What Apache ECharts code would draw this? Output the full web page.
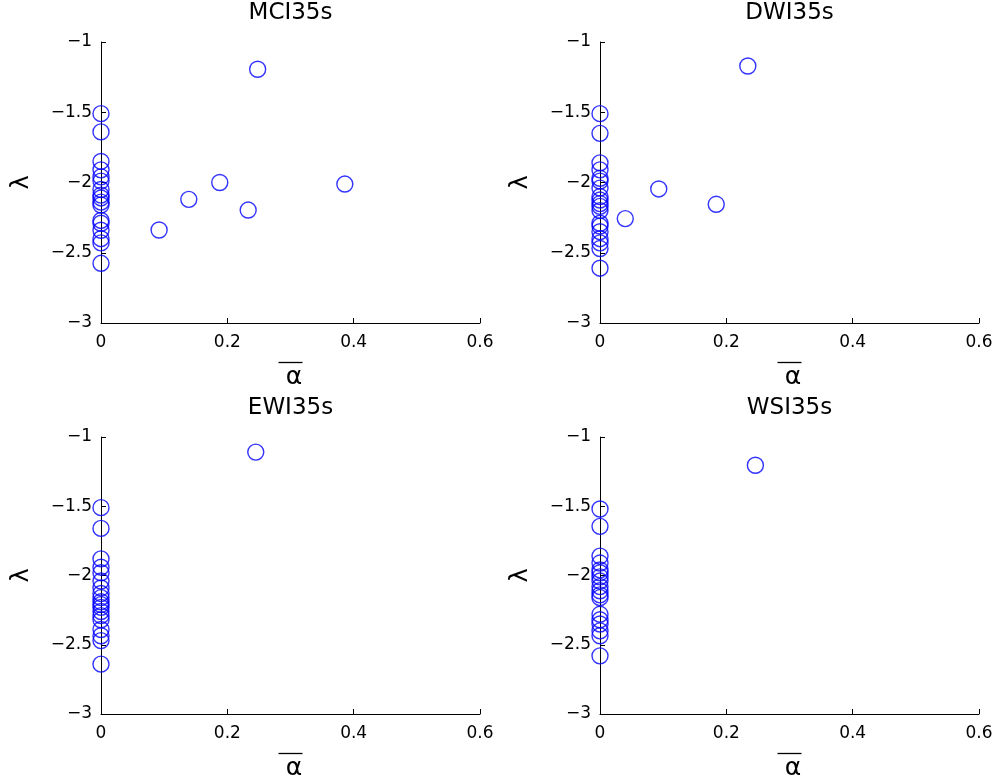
<!DOCTYPE html>
<html>
<head>
<meta charset="utf-8">
<script src="https://cdn.jsdelivr.net/npm/echarts@6/dist/echarts.min.js"></script>
<style>html,body{margin:0;padding:0;background:#fff;overflow:hidden;}#c{width:1002px;height:782px;}</style>
</head>
<body>
<div id="c"></div>
<script>
var titles = ['MCI35s', 'DWI35s', 'EWI35s', 'WSI35s'];
var xTicks = [0, 0.2, 0.4, 0.6];
var yTicks = [-3, -2.5, -2, -1.5, -1];

var mciAlpha = [0,0,0,0,0,0,0,0,0,0,0,0,0,0,0,0,0, 0.248,0.188,0.139,0.233,0.092,0.386];
var mciLambda = [-1.51,-1.64,-1.85,-1.91,-1.96,-1.99,-2.05,-2.09,-2.11,-2.14,-2.16,-2.27,-2.29,-2.34,-2.40,-2.43,-2.575, -1.194,-2.00,-2.12,-2.196,-2.338,-2.011];

var dwiAlpha = [0,0,0,0,0,0,0,0,0,0,0,0,0,0,0,0,0,0,0, 0.234,0.093,0.184,0.040];
var dwiLambda = [-1.51,-1.65,-1.86,-1.91,-1.97,-1.99,-2.04,-2.10,-2.125,-2.15,-2.17,-2.20,-2.29,-2.31,-2.35,-2.40,-2.43,-2.47,-2.61, -1.171,-2.046,-2.155,-2.257];

var ewiAlpha = [0,0,0,0,0,0,0,0,0,0,0,0,0,0,0,0,0,0,0, 0.245];
var ewiLambda = [-1.51,-1.66,-1.88,-1.94,-1.98,-2.04,-2.09,-2.13,-2.16,-2.19,-2.21,-2.23,-2.26,-2.29,-2.32,-2.39,-2.435,-2.47,-2.64, -1.109];

var wsiAlpha = [0,0,0,0,0,0,0,0,0,0,0,0,0,0,0,0,0,0, 0.246];
var wsiLambda = [-1.52,-1.645,-1.86,-1.91,-1.96,-1.98,-2.01,-2.04,-2.08,-2.11,-2.14,-2.16,-2.28,-2.32,-2.35,-2.40,-2.435,-2.58, -1.204];

var alphas = [mciAlpha, dwiAlpha, ewiAlpha, wsiAlpha];
var lambdas = [mciLambda, dwiLambda, ewiLambda, wsiLambda];

var font = 'DejaVu Sans, sans-serif';
var grids = [
  {left: 101, top: 42, width: 379, height: 281},
  {left: 600, top: 42, width: 379, height: 281},
  {left: 101, top: 437, width: 379, height: 281},
  {left: 600, top: 437, width: 379, height: 281}
];
var option = {
  backgroundColor: '#fff',
  animation: false,
  title: [], grid: grids, xAxis: [], yAxis: [], series: []
};
for (var i = 0; i < 4; i++) {
  var g = grids[i];
  option.title.push({
    text: titles[i], left: g.left + g.width / 2, top: g.top - 40, textAlign: 'center', padding: 0,
    textStyle: {fontFamily: font, fontSize: 23, fontWeight: 'normal', color: '#000'}
  });
  option.xAxis.push({
    type: 'value', gridIndex: i, min: xTicks[0], max: xTicks[xTicks.length - 1], interval: 0.2,
    name: '{o| }\n{a|α}', nameLocation: 'middle', nameGap: 35,
    nameTextStyle: {
      fontFamily: font, fontSize: 24, color: '#000',
      rich: {
        o: {width: 24, height: 1.3, lineHeight: 9, fontSize: 1, backgroundColor: '#000', align: 'center'},
        a: {fontFamily: font, fontSize: 25, lineHeight: 21, color: '#000', padding: [0, 0, 0, 7], align: 'center'}
      }
    },
    axisLine: {show: true, lineStyle: {color: '#000', width: 1}},
    axisTick: {show: true, inside: true, length: 5, lineStyle: {color: '#000'}},
    axisLabel: {fontFamily: font, fontSize: 17, color: '#000', margin: 11,
      formatter: function (v) { return String(Math.round(v * 10) / 10); }},
    splitLine: {show: false}
  });
  option.yAxis.push({
    type: 'value', gridIndex: i, min: yTicks[0], max: yTicks[yTicks.length - 1], interval: 0.5,
    name: 'λ', nameLocation: 'middle', nameGap: 67,
    nameTextStyle: {fontFamily: font, fontSize: 24, color: '#000'},
    axisLine: {show: true, lineStyle: {color: '#000', width: 1}},
    axisTick: {show: true, inside: true, length: 5, lineStyle: {color: '#000'}},
    axisLabel: {fontFamily: font, fontSize: 17, color: '#000', margin: 9,
      formatter: function (v) { return String(v).replace('-', '\u2212'); }},
    splitLine: {show: false}
  });
  var d = [];
  for (var k = 0; k < alphas[i].length; k++) d.push([alphas[i][k], lambdas[i][k]]);
  option.series.push({
    type: 'scatter', xAxisIndex: i, yAxisIndex: i, data: d, symbol: 'circle', symbolSize: 16,
    itemStyle: {color: 'rgba(0,0,0,0)', borderColor: '#0000ff', borderWidth: 1.4},
    emphasis: {disabled: true}, clip: false
  });
}
var chart = echarts.init(document.getElementById('c'));
chart.setOption(option);
</script>
</body>
</html>
